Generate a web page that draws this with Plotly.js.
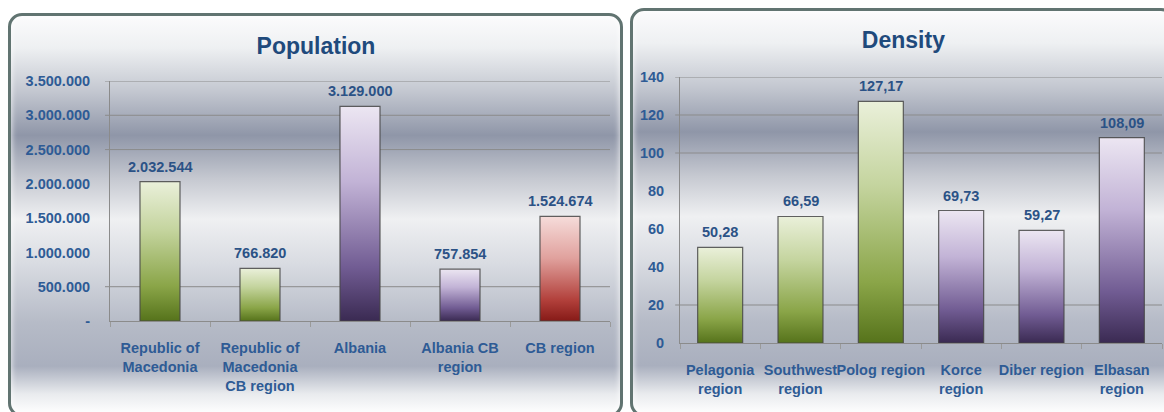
<!DOCTYPE html>
<html>
<head>
<meta charset="utf-8">
<script src="https://cdn.plot.ly/plotly-3.0.1.min.js"></script>
<style>
  html, body { margin:0; padding:0; background:#ffffff; width:1164px; height:412px; overflow:hidden; position:relative; }
  .panel {
    position:absolute; box-sizing:border-box;
    border:3px solid #617471; border-radius:14px;
    background: linear-gradient(to bottom,
      #fbfbfc 0%, #eef0f2 8%, #c3c7d0 19%, #8f96a8 30%, #c6c9d1 41%,
      #eff0f2 51%, #d9dce2 62%, #b6bbc7 77%, #a9afbe 88%, #e9ebee 95%, #ffffff 100%);
    box-shadow: inset 0 0 6px rgba(255,255,255,0.9);
  }
  #panelL { left:8px; top:13px; width:615px; height:404px; }
  #panelR { left:630px; top:8px; width:545px; height:409px; }
  .plot { position:absolute; top:0; }
  #popChart { left:0; width:622px; height:412px; }
  #densChart { left:630px; width:534px; height:412px; }
</style>
</head>
<body>
<svg width="0" height="0" style="position:absolute">
  <defs>
    <linearGradient id="g-green" x1="0" y1="0" x2="0" y2="1">
      <stop offset="0" stop-color="#eaf0da"/>
      <stop offset="0.35" stop-color="#c4d49e"/>
      <stop offset="0.75" stop-color="#8aa548"/>
      <stop offset="1" stop-color="#56731b"/>
    </linearGradient>
    <linearGradient id="g-purple" x1="0" y1="0" x2="0" y2="1">
      <stop offset="0" stop-color="#ece6f2"/>
      <stop offset="0.35" stop-color="#c2b3d6"/>
      <stop offset="0.75" stop-color="#715c93"/>
      <stop offset="1" stop-color="#3a2a52"/>
    </linearGradient>
    <linearGradient id="g-red" x1="0" y1="0" x2="0" y2="1">
      <stop offset="0" stop-color="#f6dcda"/>
      <stop offset="0.4" stop-color="#e0a19d"/>
      <stop offset="0.8" stop-color="#b2403b"/>
      <stop offset="1" stop-color="#861a17"/>
    </linearGradient>
  </defs>
</svg>
<div class="panel" id="panelL"></div>
<div class="panel" id="panelR"></div>
<div class="plot" id="popChart"></div>
<div class="plot" id="densChart"></div>
<script>
// ---- data ----
const popCategories = ['Republic of<br>Macedonia', 'Republic of<br>Macedonia<br>CB region', 'Albania', 'Albania CB<br>region', 'CB region'];
const popValues = [2032544, 766820, 3129000, 757854, 1524674];
const popTickVals = [0, 500000, 1000000, 1500000, 2000000, 2500000, 3000000, 3500000];
const popTickText = ['-', '500.000', '1.000.000', '1.500.000', '2.000.000', '2.500.000', '3.000.000', '3.500.000'];

const densCategories = ['Pelagonia<br>region', 'Southwest<br>region', 'Polog region', 'Korce<br>region', 'Diber region', 'Elbasan<br>region'];
const densValues = [50.28, 66.59, 127.17, 69.73, 59.27, 108.09];
const densTickVals = [0, 20, 40, 60, 80, 100, 120, 140];
const densTickText = ['0', '20', '40', '60', '80', '100', '120', '140'];

// ---- styles ----
const popBarStyle = ['green', 'green', 'purple', 'purple', 'red'];
const densBarStyle = ['green', 'green', 'green', 'purple', 'purple', 'purple'];
const popVisibleGrid = [500000, 2500000, 3000000, 3500000];
const densVisibleGrid = [20, 100, 120, 140];
const solid = { green: '#9db562', purple: '#8a76a8', red: '#c4605b' };

const FONT = "'Liberation Sans', Arial, sans-serif";
const TITLE_COLOR = '#1f4a7c';
const TICK_COLOR = '#2e5b95';
const LABEL_COLOR = '#2b5286';
const TXT = 14.5;

const fmtPop = new Intl.NumberFormat('de-DE', { maximumFractionDigits: 0 });
const fmtDens = new Intl.NumberFormat('de-DE', { minimumFractionDigits: 2, maximumFractionDigits: 2 });

function buildChart(opt) {
  const { divId, cats, vals, tickVals, tickText, styleKeys, grid, fmt, title, titleX, titleY, margin, bargap, yMax, yStandoff, xStandoff } = opt;
  const trace = {
    type: 'bar',
    x: cats,
    y: vals,
    marker: {
      color: styleKeys.map(k => solid[k]),
      line: { color: 'rgba(70,70,70,0.85)', width: 1.2 }
    },
    hoverinfo: 'x+y'
  };
  const annotations = cats.map((c, i) => ({
    x: c, y: vals[i], xref: 'x', yref: 'y',
    text: fmt.format(vals[i]),
    showarrow: false, yanchor: 'bottom', yshift: 5,
    font: { family: FONT, size: TXT, color: LABEL_COLOR, weight: 700 }
  }));
  const shapes = grid.map(v => ({
    type: 'line', xref: 'paper', yref: 'y', x0: -0.01, x1: 1, y0: v, y1: v,
    line: { color: '#8b8b8b', width: 1 }, layer: 'below'
  }));
  const layout = {
    width: parseInt(getComputedStyle(document.getElementById(divId)).width),
    height: 412,
    margin: margin,
    paper_bgcolor: 'rgba(0,0,0,0)',
    plot_bgcolor: 'rgba(0,0,0,0)',
    showlegend: false,
    bargap: bargap,
    title: {
      text: title, x: titleX, xanchor: 'center', xref: 'container',
      y: titleY, yanchor: 'middle', yref: 'container',
      font: { family: FONT, size: 23, color: TITLE_COLOR, weight: 700 }
    },
    xaxis: {
      type: 'category',
      showline: true, linecolor: '#8b8b8b', linewidth: 1,
      ticks: 'outside', tickson: 'boundaries', ticklen: 5, tickcolor: '#9a9a9a',
      tickangle: 0, ticklabelstandoff: xStandoff,
      tickfont: { family: FONT, size: TXT, color: TICK_COLOR, weight: 700 },
      showgrid: false, zeroline: false, fixedrange: true
    },
    yaxis: {
      range: [0, yMax],
      tickvals: tickVals, ticktext: tickText,
      ticks: '', showgrid: false, zeroline: false,
      showline: true, linecolor: '#8b8b8b', linewidth: 1,
      tickfont: { family: FONT, size: TXT, color: TICK_COLOR, weight: 700 },
      ticklabelstandoff: yStandoff, fixedrange: true
    },
    shapes: shapes,
    annotations: annotations
  };
  return Plotly.newPlot(divId, [trace], layout, { displayModeBar: false, staticPlot: true }).then(gd => {
    const paths = gd.querySelectorAll('.barlayer .point path');
    paths.forEach((p, i) => { p.style.fill = 'url(#g-' + styleKeys[i] + ')'; p.style.fillOpacity = 1; });
    return gd;
  });
}

buildChart({
  divId: 'popChart', cats: popCategories, vals: popValues, tickVals: popTickVals, tickText: popTickText,
  styleKeys: popBarStyle, grid: popVisibleGrid, fmt: fmtPop,
  title: 'Population', titleX: 0.508, titleY: 0.888,
  margin: { l: 110, r: 12, t: 81, b: 91 }, bargap: 0.6, yMax: 3500000, yStandoff: 16, xStandoff: 14
});
buildChart({
  divId: 'densChart', cats: densCategories, vals: densValues, tickVals: densTickVals, tickText: densTickText,
  styleKeys: densBarStyle, grid: densVisibleGrid, fmt: fmtDens,
  title: 'Density', titleX: 0.512, titleY: 0.903,
  margin: { l: 50, r: 2, t: 77, b: 69 }, bargap: 0.44, yMax: 140, yStandoff: 12, xStandoff: 14
});
</script>
</body>
</html>
